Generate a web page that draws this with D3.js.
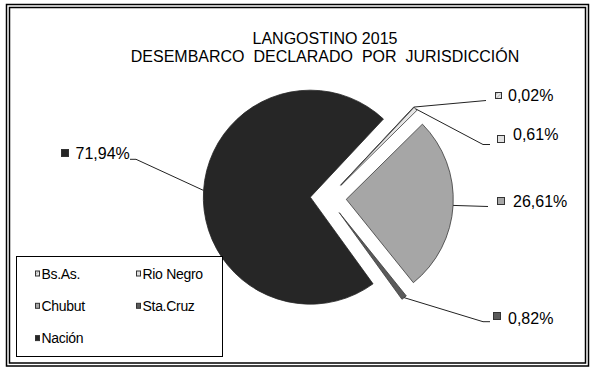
<!DOCTYPE html>
<html>
<head>
<meta charset="utf-8">
<script src="https://cdn.jsdelivr.net/npm/d3@7"></script>
<style>
  html, body { margin: 0; padding: 0; background: #fff; }
  svg { display: block; }
  text { font-family: "Liberation Sans", Arial, sans-serif; fill: #000; }
</style>
</head>
<body>
<svg id="chart" width="597" height="373"></svg>
<script>
// ---- data ----
const categories = ["Bs.As.", "Rio Negro", "Chubut", "Sta.Cruz", "Nación"];
const values = [0.02, 0.61, 26.61, 0.82, 71.94];
const valueLabels = ["0,02%", "0,61%", "26,61%", "0,82%", "71,94%"];
const titleLines = ["LANGOSTINO 2015", "DESEMBARCO  DECLARADO  POR  JURISDICCIÓN"];

// ---- styling / layout ----
const fills = ["url(#hatch)", "#e6e6e6", "#a6a6a6", "#5a5a5a", "#262626"];
const markerFills = ["url(#hatch)", "#e0e0e0", "#a6a6a6", "#5a5a5a", "#262626"];
const cx = 328.3, cy = 198.3, R = 107, explode = 18;
const startDeg = 43.1;
// label layout per slice: elbow point, line end, marker box, text position
const labelLayout = [
  {elbow: [486, 100.5], end: [486, 100.5], mk: [495, 92, 6], tx: [508, 101]},
  {elbow: [483, 144.5], end: [490, 144.5], mk: [497, 135, 7], tx: [513, 140]},
  {elbow: [488, 206.5], end: [488, 206.5], mk: [497, 197, 7], tx: [513, 207]},
  {elbow: [483, 321.7], end: [490, 321.7], mk: [493, 312, 7], tx: [508, 323.5]},
  {elbow: [136, 159.3], end: [130, 159.3], mk: [61, 149, 7], tx: [75.5, 158.5]}
];

const svg = d3.select("#chart");
const defs = svg.append("defs");
const pat = defs.append("pattern").attr("id", "hatch")
  .attr("patternUnits", "userSpaceOnUse").attr("width", 3).attr("height", 3)
  .attr("patternTransform", "rotate(45)");
pat.append("rect").attr("width", 3).attr("height", 3).attr("fill", "#e8e8e8");
pat.append("line").attr("x1", 0).attr("y1", 0).attr("x2", 0).attr("y2", 3)
  .attr("stroke", "#8a8a8a").attr("stroke-width", 1);

// frame (double line)
svg.append("rect").attr("x", 6.5).attr("y", 4.5).attr("width", 582).attr("height", 361.5)
  .attr("fill", "none").attr("stroke", "#000").attr("stroke-width", 1.5);
svg.append("rect").attr("x", 9.5).attr("y", 7.5).attr("width", 576).attr("height", 355.5)
  .attr("fill", "none").attr("stroke", "#000").attr("stroke-width", 1.5);

// title
svg.append("g").selectAll("text").data(titleLines).join("text")
  .attr("x", 325).attr("y", (d, i) => 43.5 + i * 18)
  .attr("text-anchor", "middle").attr("font-size", 16)
  .style("white-space", "pre").attr("xml:space", "preserve")
  .text(d => d);

// pie
const toRad = d => d * Math.PI / 180;
const pie = d3.pie().sort(null).value(d => d)
  .startAngle(toRad(startDeg)).endAngle(toRad(startDeg + 360));
const arcs = pie(values);
const arcGen = d3.arc().innerRadius(0).outerRadius(R);

const pieG = svg.append("g");
arcs.forEach((a, i) => {
  const mid = (a.startAngle + a.endAngle) / 2;
  a.ox = cx + explode * Math.sin(mid);
  a.oy = cy - explode * Math.cos(mid);
  a.mid = mid;
});
pieG.selectAll("path").data(arcs).join("path")
  .attr("transform", d => `translate(${d.ox},${d.oy})`)
  .attr("d", arcGen)
  .attr("fill", (d, i) => fills[i])
  .attr("stroke", (d, i) => i === 4 ? "#262626" : "#3a3a3a")
  .attr("stroke-width", 0.8);

// leader lines and labels
const lblG = svg.append("g");
arcs.forEach((a, i) => {
  const L = labelLayout[i];
  const px = a.ox + R * Math.sin(a.mid), py = a.oy - R * Math.cos(a.mid);
  lblG.append("polyline")
    .attr("points", [[px, py], L.elbow, L.end].map(p => p.join(",")).join(" "))
    .attr("fill", "none").attr("stroke", "#222").attr("stroke-width", 1);
  lblG.append("rect").attr("x", L.mk[0] + 0.5).attr("y", L.mk[1] + 0.5)
    .attr("width", L.mk[2]).attr("height", L.mk[2])
    .attr("fill", markerFills[i]).attr("stroke", "#333").attr("stroke-width", 1);
  lblG.append("text").attr("x", L.tx[0]).attr("y", L.tx[1])
    .attr("font-size", 16).text(valueLabels[i]);
});

// legend
const leg = svg.append("g");
leg.append("rect").attr("x", 16.5).attr("y", 256.5).attr("width", 206).attr("height", 100)
  .attr("fill", "#fff").attr("stroke", "#000").attr("stroke-width", 1);
const legPos = (i) => ({x: 35 + (i % 2) * 101, y: 278.5 + Math.floor(i / 2) * 32.3});
const items = leg.selectAll("g.item").data(categories).join("g").attr("class", "item")
  .attr("transform", (d, i) => `translate(${legPos(i).x},${legPos(i).y})`);
items.append("rect").attr("x", 0.5).attr("y", -7.5).attr("width", 4).attr("height", 5)
  .attr("fill", (d, i) => markerFills[i]).attr("stroke", "#333").attr("stroke-width", 1);
items.append("text").attr("x", 6.5).attr("y", 0).attr("font-size", 14)
  .attr("letter-spacing", -0.3).text(d => d);
</script>
</body>
</html>
